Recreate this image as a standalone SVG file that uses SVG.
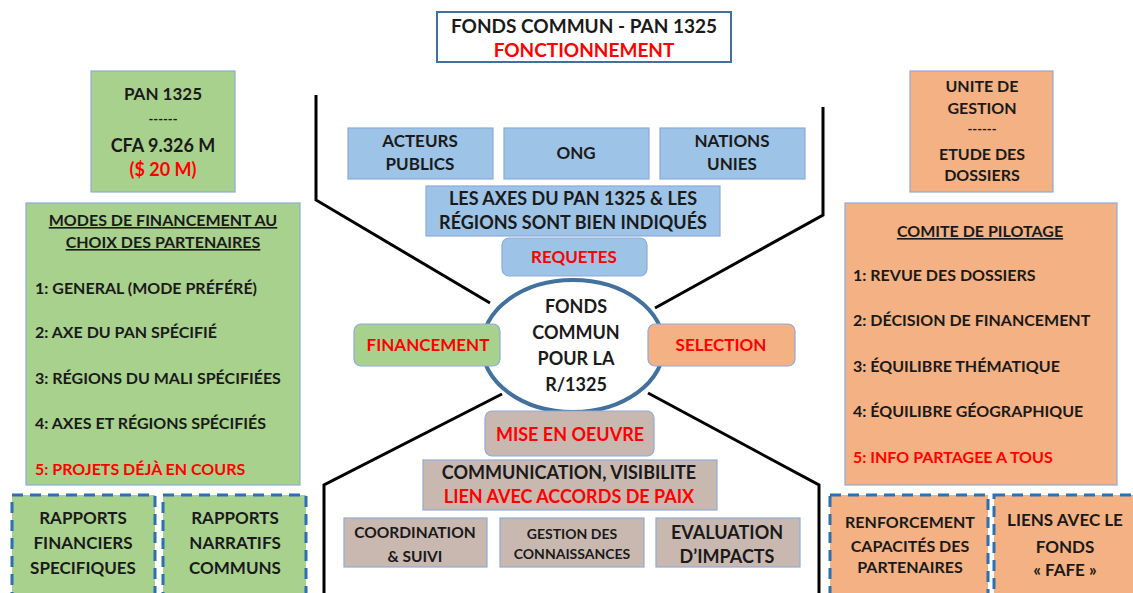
<svg xmlns="http://www.w3.org/2000/svg" width="1133" height="593" viewBox="0 0 1133 593">
<style>
text{font-family:Lato,"Open Sans","Liberation Sans",sans-serif;font-weight:bold;fill:#1a1a1a;text-anchor:middle}
.r{fill:#ff0000}
.l{text-anchor:start}
.u{text-decoration:underline}
.green{fill:#a9d18e;stroke:#8eaadb;stroke-width:1.2}
.orange{fill:#f4b183;stroke:#8eaadb;stroke-width:1.2}
.blue{fill:#9dc3e6;stroke:#8eaadb;stroke-width:1.2}
.grey{fill:#c9b8b0;stroke:#8eaadb;stroke-width:1.2}
.dash{stroke:#2e6fb0;stroke-width:3;stroke-dasharray:11 7}
.f19{font-size:19px}.f18{font-size:18px}.f17{font-size:17px}.f16{font-size:16px}.f15{font-size:15.5px}.f14{font-size:14px}.f13{font-size:13px}
</style>
<rect width="1133" height="593" fill="#ffffff"/>
<g id="connectors" fill="none" stroke="#000000" stroke-width="3">
<polyline points="316,95 316,200 490,303"/>
<polyline points="823,107 823,215 655,308"/>
<polyline points="502,394 324,485 324,593"/>
<polyline points="648,393 819,485 819,593"/>
</g>
<g id="title">
<rect x="437" y="12" width="294" height="50" fill="#ffffff" stroke="#41719c" stroke-width="2"/>
<text x="584" y="33" class="f19">FONDS COMMUN - PAN 1325</text>
<text x="584" y="57" class="f19 r">FONCTIONNEMENT</text>
</g>
<g id="pan">
<rect x="91" y="71" width="144" height="121" class="green"/>
<text x="163" y="100" class="f17">PAN 1325</text>
<text x="163" y="124" class="f13">------</text>
<text x="163" y="152" class="f18">CFA 9.326 M</text>
<text x="163" y="176" class="f18 r">($ 20 M)</text>
</g>
<g id="modes">
<rect x="26" y="203" width="274" height="282" class="green"/>
<text x="163" y="226" class="f16 u">MODES DE FINANCEMENT AU</text>
<text x="163" y="248" class="f16 u">CHOIX DES PARTENAIRES</text>
<text x="35" y="294" class="f16 l">1: GENERAL (MODE PRÉFÉRÉ)</text>
<text x="35" y="338" class="f16 l">2: AXE DU PAN SPÉCIFIÉ</text>
<text x="35" y="384" class="f16 l">3: RÉGIONS DU MALI SPÉCIFIÉES</text>
<text x="35" y="429" class="f16 l">4: AXES ET RÉGIONS SPÉCIFIÉS</text>
<text x="35" y="475" class="f16 l r">5: PROJETS DÉJÀ EN COURS</text>
</g>
<g id="rapports-fin">
<rect x="12" y="495" width="143" height="100" class="green dash"/>
<text x="83" y="524" class="f17">RAPPORTS</text>
<text x="83" y="549" class="f17">FINANCIERS</text>
<text x="83" y="574" class="f17">SPECIFIQUES</text>
</g>
<g id="rapports-nar">
<rect x="163" y="495" width="143" height="100" class="green dash"/>
<text x="235" y="524" class="f17">RAPPORTS</text>
<text x="235" y="549" class="f17">NARRATIFS</text>
<text x="235" y="574" class="f17">COMMUNS</text>
</g>
<g id="acteurs">
<rect x="348" y="128" width="145" height="51" class="blue"/>
<text x="420" y="147" class="f17">ACTEURS</text>
<text x="420" y="170" class="f17">PUBLICS</text>
</g>
<g id="ong">
<rect x="504" y="128" width="145" height="51" class="blue"/>
<text x="576" y="159" class="f17">ONG</text>
</g>
<g id="nations">
<rect x="660" y="128" width="145" height="51" class="blue"/>
<text x="732" y="147" class="f17">NATIONS</text>
<text x="732" y="170" class="f17">UNIES</text>
</g>
<g id="axes">
<rect x="426" y="186" width="294" height="50" class="blue"/>
<text x="573" y="205" class="f18">LES AXES DU PAN 1325 &amp; LES</text>
<text x="573" y="229" class="f18">RÉGIONS SONT BIEN INDIQUÉS</text>
</g>
<g id="requetes">
<rect x="502" y="238" width="145" height="38" rx="7" class="blue"/>
<text x="574" y="263" class="f17 r">REQUETES</text>
</g>
<g id="fonds">
<ellipse cx="573" cy="346" rx="91" ry="66" fill="#ffffff" stroke="#41719c" stroke-width="4"/>
<text x="576" y="313" class="f18">FONDS</text>
<text x="576" y="339" class="f18">COMMUN</text>
<text x="576" y="365" class="f18">POUR LA</text>
<text x="576" y="391" class="f18">R/1325</text>
</g>
<g id="financement">
<rect x="354" y="324" width="146" height="42" rx="7" class="green"/>
<text x="428" y="351" class="f17 r">FINANCEMENT</text>
</g>
<g id="selection">
<rect x="648" y="324" width="147" height="42" rx="7" class="orange"/>
<text x="721" y="351" class="f17 r">SELECTION</text>
</g>
<g id="mise">
<rect x="485" y="411" width="169" height="45" rx="7" class="grey"/>
<text x="570" y="441" class="f18 r">MISE EN OEUVRE</text>
</g>
<g id="communication">
<rect x="423" y="460" width="294" height="50" class="grey"/>
<text x="569" y="479" class="f18">COMMUNICATION, VISIBILITE</text>
<text x="569" y="503" class="f18 r">LIEN AVEC ACCORDS DE PAIX</text>
</g>
<g id="coordination">
<rect x="344" y="518" width="143" height="49" class="grey"/>
<text x="415" y="538" class="f15">COORDINATION</text>
<text x="415" y="562" class="f15">&amp; SUIVI</text>
</g>
<g id="gestion">
<rect x="500" y="518" width="144" height="49" class="grey"/>
<text x="572" y="539" class="f14">GESTION DES</text>
<text x="572" y="559" class="f14">CONNAISSANCES</text>
</g>
<g id="evaluation">
<rect x="656" y="518" width="144" height="49" class="grey"/>
<text x="727" y="539" class="f18">EVALUATION</text>
<text x="727" y="563" class="f18">D’IMPACTS</text>
</g>
<g id="unite">
<rect x="910" y="71" width="143" height="121" class="orange"/>
<text x="982" y="92" class="f16">UNITE DE</text>
<text x="982" y="114" class="f16">GESTION</text>
<text x="982" y="134" class="f13">------</text>
<text x="982" y="160" class="f16">ETUDE DES</text>
<text x="982" y="181" class="f16">DOSSIERS</text>
</g>
<g id="comite">
<rect x="845" y="203" width="272" height="282" class="orange"/>
<text x="980" y="237" class="f16 u">COMITE  DE PILOTAGE</text>
<text x="853" y="281" class="f16 l">1: REVUE DES DOSSIERS</text>
<text x="853" y="326" class="f16 l">2: DÉCISION DE FINANCEMENT</text>
<text x="853" y="372" class="f16 l">3: ÉQUILIBRE THÉMATIQUE</text>
<text x="853" y="417" class="f16 l">4: ÉQUILIBRE GÉOGRAPHIQUE</text>
<text x="853" y="463" class="f16 l r">5: INFO PARTAGEE A TOUS</text>
</g>
<g id="renforcement">
<rect x="830" y="495" width="158" height="100" class="orange dash"/>
<text x="910" y="528" class="f16">RENFORCEMENT</text>
<text x="910" y="552" class="f16">CAPACITÉS DES</text>
<text x="910" y="573" class="f16">PARTENAIRES</text>
</g>
<g id="liens">
<rect x="994" y="495" width="145" height="100" class="orange dash"/>
<text x="1065" y="526" class="f17">LIENS AVEC LE</text>
<text x="1065" y="553" class="f17">FONDS</text>
<text x="1065" y="576" class="f17">« FAFE »</text>
</g>
</svg>
